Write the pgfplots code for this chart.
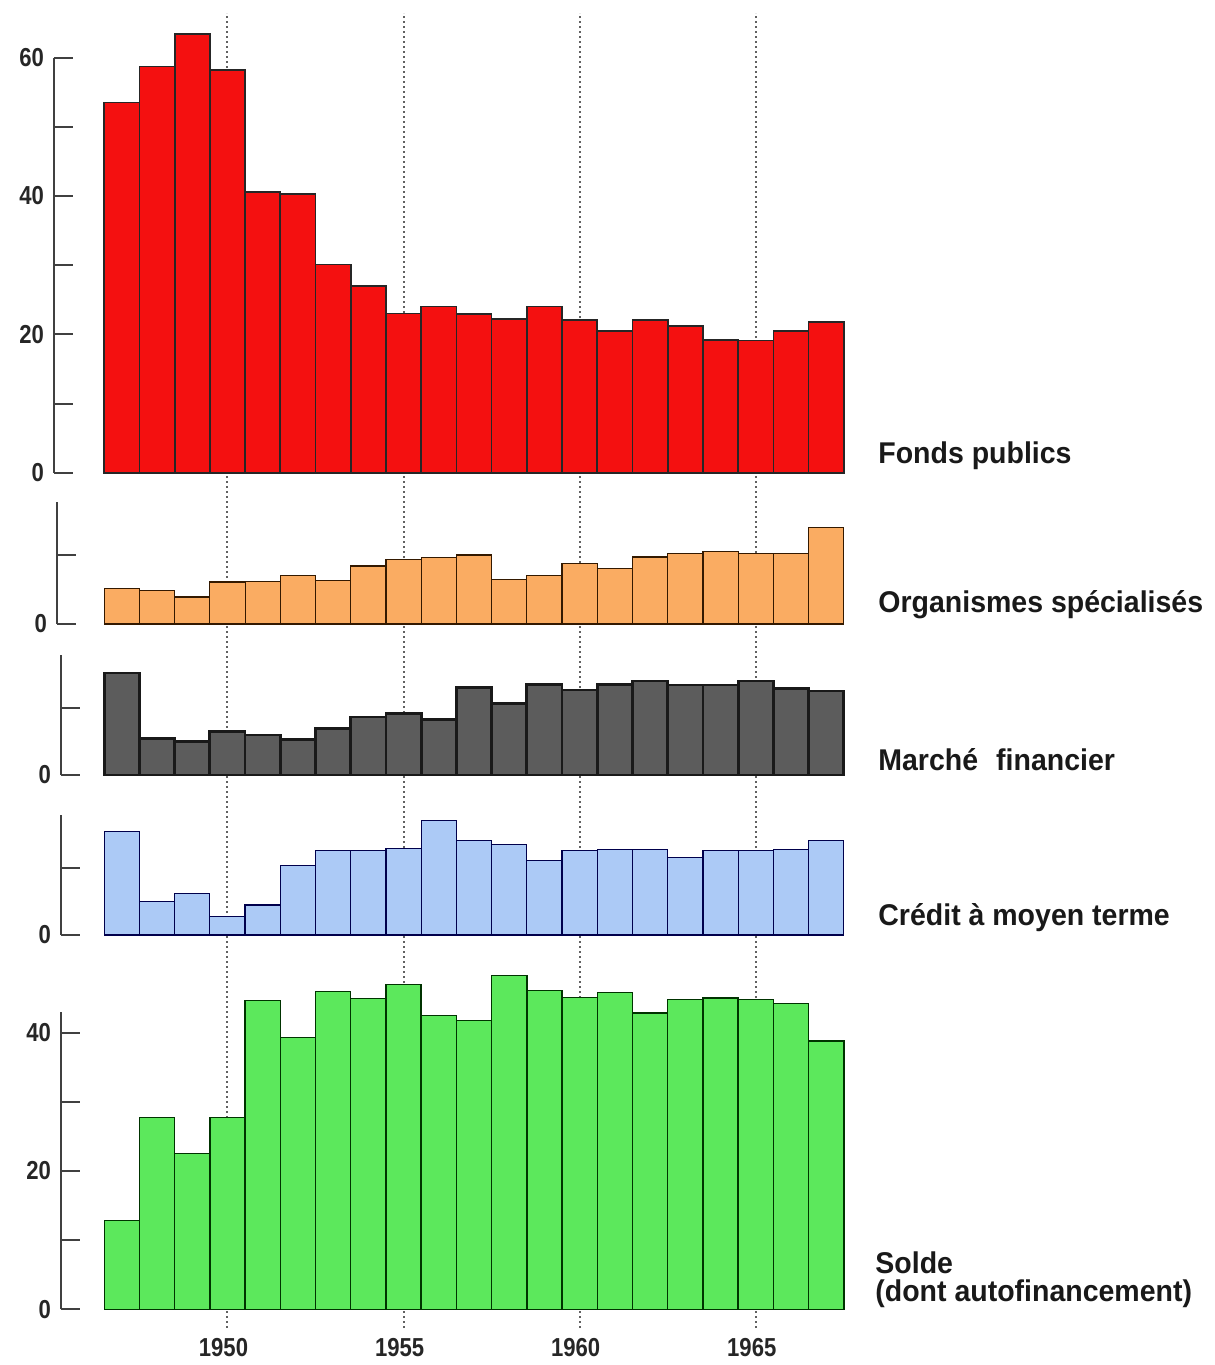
\documentclass[border=0pt]{standalone}
\usepackage{fontspec}
\usepackage{pgfplots}
\pgfplotsset{compat=1.18}
\newfontfamily\labfont[FakeStretch=0.95]{Liberation Sans}
\newfontfamily\tickfont[FakeStretch=0.85]{Liberation Sans}
\definecolor{cred}{RGB}{244,16,16}
\definecolor{corange}{RGB}{250,172,98}
\definecolor{cdark}{RGB}{92,92,92}
\definecolor{cblue}{RGB}{172,202,246}
\definecolor{cgreen}{RGB}{92,232,92}
\pgfplotsset{panel/.style={
  anchor=south west, x=17.61pt, xmax=1968, ymin=0, clip=false, enlargelimits=false,
  axis x line=none, axis y line=left, ytick pos=left, tick align=inside,
  axis line style={-, draw=black!75, line width=1pt},
  ytick style={draw=black!75, line width=1pt},
  major tick length=9.5pt,
  /pgf/number format/assume math mode=true,
  yticklabel style={font=\tickfont\bfseries\fontsize{13}{13}\selectfont, text=black!85, xshift=-1.5pt},
  ybar, bar width=1,
}}
\begin{document}
\begin{tikzpicture}
\path[use as bounding box] (0,0) rectangle (607.5pt,-682.5pt);
% background: dotted year lines and year labels (drawn first, behind the bars)
\begin{axis}[at={(30.5pt,-664pt)}, anchor=south west, x=17.61pt, y=657.5pt,
  xmin=1945.273, xmax=1968, ymin=0, ymax=1, enlargelimits=false, clip=false,
  axis y line=none, axis x line=bottom, x axis line style={draw=none},
  xtick={1950,1955,1960,1965}, xticklabels={1950,1955,1960,1965},
  major tick length=0pt, xmajorgrids,
  major grid style={black!62, line width=1pt, dash pattern=on 1.1pt off 1.4pt},
  xticklabel style={font=\tickfont\bfseries\fontsize{13}{13}\selectfont, text=black!85, yshift=-1.5pt, xshift=-2pt}]
\addplot[draw=none, forget plot] coordinates {(1950,0.5)};
\end{axis}
% 1 Fonds publics
\begin{axis}[panel, at={(27pt,-236.35pt)}, xmin=1945.074, ymax=60, y=3.46pt,
  ytick={0,10,20,30,40,50,60}, yticklabels={0,,20,,40,,60}]
\addplot[fill=cred, draw=black!85, line width=0.85pt] coordinates {
(1947,53.5) (1948,58.7) (1949,63.4) (1950,58.2) (1951,40.6) (1952,40.3) (1953,30.1)
(1954,27.0) (1955,23.0) (1956,24.0) (1957,22.9) (1958,22.2) (1959,24.0) (1960,22.1)
(1961,20.5) (1962,22.1) (1963,21.2) (1964,19.2) (1965,19.1) (1966,20.5) (1967,21.8)};
\end{axis}
% 2 Organismes specialises
\begin{axis}[panel, at={(28.5pt,-312pt)}, xmin=1945.159, ymax=17.7, y=3.45pt,
  ytick={0,10}, yticklabels={0,}]
\addplot[fill=corange, draw=black!80!orange, line width=0.6pt] coordinates {
(1947,5.2) (1948,4.8) (1949,3.9) (1950,6.1) (1951,6.2) (1952,7.0) (1953,6.3)
(1954,8.4) (1955,9.4) (1956,9.6) (1957,10.0) (1958,6.4) (1959,7.0) (1960,8.8)
(1961,8.0) (1962,9.7) (1963,10.2) (1964,10.5) (1965,10.2) (1966,10.2) (1967,14.0)};
\end{axis}
% 3 Marche financier
\begin{axis}[panel, at={(30.5pt,-387.5pt)}, xmin=1945.273, ymax=18, y=3.335pt,
  ytick={0,10}, yticklabels={0,}]
\addplot[fill=cdark, draw=black!90, line width=1.4pt] coordinates {
(1947,15.3) (1948,5.5) (1949,5.0) (1950,6.5) (1951,6.0) (1952,5.35) (1953,7.0)
(1954,8.7) (1955,9.25) (1956,8.35) (1957,13.1) (1958,10.75) (1959,13.6) (1960,12.75)
(1961,13.6) (1962,14.1) (1963,13.5) (1964,13.5) (1965,14.1) (1966,13.0) (1967,12.6)};
\end{axis}
% 4 Credit a moyen terme
\begin{axis}[panel, at={(30.5pt,-467.5pt)}, xmin=1945.273, ymax=17.8, y=3.365pt,
  ytick={0,10}, yticklabels={0,}]
\addplot[fill=cblue, draw=black!70!blue, line width=0.6pt] coordinates {
(1947,15.35) (1948,4.95) (1949,6.2) (1950,2.7) (1951,4.45) (1952,10.3) (1953,12.5)
(1954,12.5) (1955,12.9) (1956,17.0) (1957,14.0) (1958,13.5) (1959,11.1) (1960,12.5)
(1961,12.7) (1962,12.7) (1963,11.5) (1964,12.5) (1965,12.5) (1966,12.7) (1967,14.0)};
\end{axis}
% 5 Solde
\begin{axis}[panel, at={(30.5pt,-654.65pt)}, xmin=1945.273, ymax=43, y=3.46pt,
  ytick={0,10,20,30,40}, yticklabels={0,,20,,40}]
\addplot[fill=cgreen, draw=black!80!green, line width=0.7pt] coordinates {
(1947,12.8) (1948,27.7) (1949,22.5) (1950,27.7) (1951,44.6) (1952,39.3) (1953,45.9)
(1954,44.9) (1955,46.9) (1956,42.5) (1957,41.7) (1958,48.2) (1959,46.1) (1960,45.1)
(1961,45.75) (1962,42.8) (1963,44.8) (1964,45.0) (1965,44.8) (1966,44.2) (1967,38.8)};
\end{axis}
% series labels
\begin{scope}[every node/.style={anchor=base west, inner sep=0pt, text=black!90,
  font=\labfont\bfseries\fontsize{15}{18}\selectfont}]
\node at (439pt,-231.65pt) {Fonds publics};
\node at (439pt,-306pt) {Organismes spécialisés};
\node at (439pt,-385pt) {Marché\hspace{0.6em}financier};
\node at (439pt,-462.5pt) {Crédit à moyen terme};
\node at (437.5pt,-636.65pt) {Solde};
\node at (437.5pt,-650.85pt) {(dont autofinancement)};
\end{scope}
\end{tikzpicture}
\end{document}
